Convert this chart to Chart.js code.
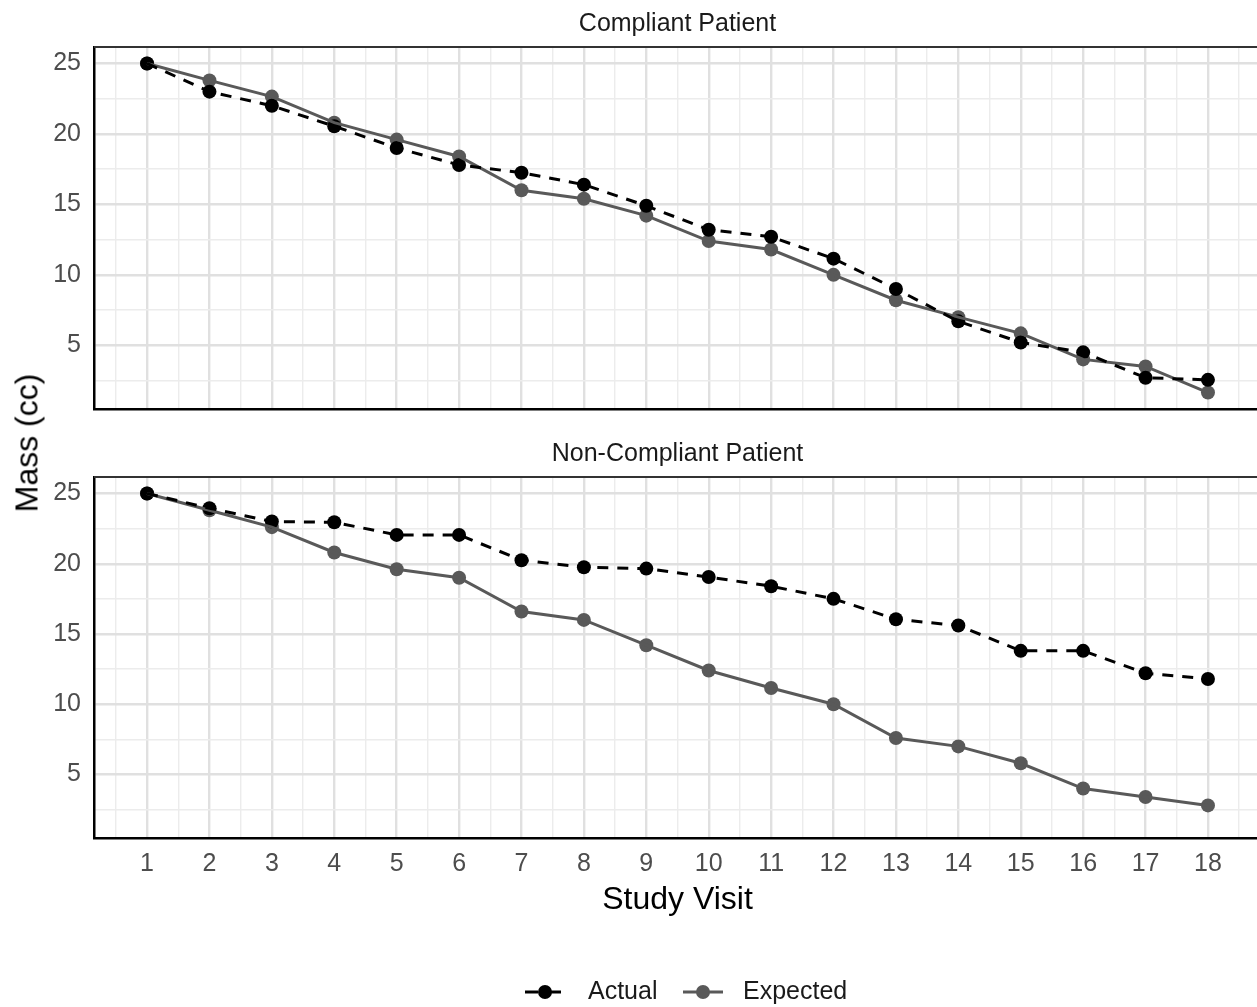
<!DOCTYPE html>
<html>
<head>
<meta charset="utf-8">
<script src="https://cdn.jsdelivr.net/npm/chart.js@4"></script>
<style>
  html, body { margin: 0; padding: 0; background: #fff; width: 1257px; height: 1007px; overflow: hidden; }
  .panel { position: absolute; left: 0; width: 1270px; }
  #p1 { top: 0; height: 430px; }
  #p2 { top: 430px; height: 577px; }
  #ylab { position: absolute; left: 27px; top: 443px; transform: translate(-50%, -50%) rotate(-90deg);
          font-family: 'Liberation Sans', Arial, sans-serif; font-size: 32px; color: #000; white-space: nowrap; }
</style>
</head>
<body>
<div id="p1" class="panel"><canvas id="c1"></canvas></div>
<div id="p2" class="panel"><canvas id="c2"></canvas></div>
<div id="ylab">Mass (cc)</div>
<script>
// ---- data ----
const visits = [1, 2, 3, 4, 5, 6, 7, 8, 9, 10, 11, 12, 13, 14, 15, 16, 17, 18];
const seriesNames = ['Actual', 'Expected'];
const panelTitles = ['Compliant Patient', 'Non-Compliant Patient'];
const compliantActual   = [25, 23.0, 22.0, 20.55, 19.0, 17.8, 17.25, 16.4, 14.9, 13.2, 12.7, 11.15, 9.0, 6.7, 5.2, 4.5, 2.7, 2.55];
const compliantExpected = [25, 23.8, 22.65, 20.8, 19.6, 18.4, 16.0, 15.4, 14.2, 12.4, 11.8, 10.0, 8.2, 7.0, 5.85, 4.0, 3.5, 1.65];
const nonCompliantActual   = [25, 23.95, 23.0, 22.95, 22.05, 22.05, 20.25, 19.75, 19.65, 19.05, 18.4, 17.5, 16.05, 15.6, 13.8, 13.8, 12.2, 11.8];
const nonCompliantExpected = [25, 23.8, 22.6, 20.8, 19.6, 19.0, 16.6, 16.0, 14.2, 12.4, 11.15, 10.0, 7.6, 7.0, 5.8, 4.0, 3.4, 2.8];
const xMajorTicks = [1, 2, 3, 4, 5, 6, 7, 8, 9, 10, 11, 12, 13, 14, 15, 16, 17, 18];
const xMinorTicks = [0.5, 1.5, 2.5, 3.5, 4.5, 5.5, 6.5, 7.5, 8.5, 9.5, 10.5, 11.5, 12.5, 13.5, 14.5, 15.5, 16.5, 17.5, 18.5];
const yMajorTicks = [5, 10, 15, 20, 25];
const yMinorTicks = [2.5, 7.5, 12.5, 17.5, 22.5];
const xLabel = 'Study Visit';

// ---- style ----
const FONT = "'Liberation Sans', Arial, sans-serif";
const ACTUAL_COLOR = '#000000';
const EXPECTED_COLOR = '#595959';
const X_MIN = 0.15, X_MAX = 18.85;
const Y_MIN = 0.48, Y_MAX = 26.17;
const PT_R = 7;

function isIn(arr, v) { return arr.some(a => Math.abs(a - v) < 1e-9); }

const panelBorder = {
  id: 'panelBorder',
  afterDraw(chart) {
    const {ctx, chartArea: a} = chart;
    ctx.save();
    ctx.strokeStyle = '#333333';
    ctx.lineWidth = 1.8;
    ctx.beginPath();
    ctx.moveTo(a.left, a.top); ctx.lineTo(a.right, a.top); ctx.lineTo(a.right, a.bottom);
    ctx.stroke();
    ctx.restore();
  }
};

const ggLegend = {
  id: 'ggLegend',
  afterDraw(chart) {
    const ctx = chart.ctx;
    const y = 562;
    const keys = [
      {x0: 525, color: ACTUAL_COLOR, dash: [13, 10], tx: 588, label: seriesNames[0]},
      {x0: 683, color: EXPECTED_COLOR, dash: [], tx: 743, label: seriesNames[1]}
    ];
    ctx.save();
    keys.forEach(k => {
      ctx.strokeStyle = k.color;
      ctx.lineWidth = 3;
      ctx.setLineDash(k.dash);
      ctx.beginPath(); ctx.moveTo(k.x0, y); ctx.lineTo(k.x0 + 40, y); ctx.stroke();
      ctx.setLineDash([]);
      ctx.fillStyle = k.color;
      ctx.beginPath(); ctx.arc(k.x0 + 20, y, PT_R, 0, Math.PI * 2); ctx.fill();
      ctx.fillStyle = '#1a1a1a';
      ctx.font = '25px ' + FONT;
      ctx.textAlign = 'left';
      ctx.textBaseline = 'middle';
      ctx.fillText(k.label, k.tx, y);
    });
    ctx.restore();
  }
};

function pts(values) { return visits.map((v, i) => ({x: v, y: values[i]})); }

function makeChart(id, title, actual, expected, isBottom) {
  const datasets = [
    {label: seriesNames[0], data: pts(actual), borderColor: ACTUAL_COLOR, borderWidth: 3, borderDash: [11, 9],
     pointRadius: 0, fill: false, tension: 0},
    {label: seriesNames[1], data: pts(expected), borderColor: EXPECTED_COLOR, borderWidth: 3,
     pointRadius: 0, fill: false, tension: 0},
    {label: seriesNames[0] + ' pts', data: pts(actual), showLine: false, pointRadius: PT_R, pointBorderWidth: 0,
     pointBackgroundColor: ACTUAL_COLOR, borderColor: ACTUAL_COLOR},
    {label: seriesNames[1] + ' pts', data: pts(expected), showLine: false, pointRadius: PT_R, pointBorderWidth: 0,
     pointBackgroundColor: EXPECTED_COLOR, borderColor: EXPECTED_COLOR}
  ];
  return new Chart(document.getElementById(id), {
    type: 'line',
    data: {datasets},
    options: {
      responsive: true,
      maintainAspectRatio: false,
      animation: false,
      events: [],
      layout: {padding: {left: 0, right: 9, top: 0, bottom: isBottom ? 88 : 21}},
      plugins: {
        legend: {display: false},
        tooltip: {enabled: false},
        title: {display: true, fullSize: false, text: title, color: '#1a1a1a',
                font: {family: FONT, size: 25, weight: 'normal', lineHeight: 1.2},
                padding: {top: 9, bottom: 8}}
      },
      scales: {
        x: {
          type: 'linear', min: X_MIN, max: X_MAX,
          afterBuildTicks: ax => { ax.ticks = xMinorTicks.concat(xMajorTicks).sort((a, b) => a - b).map(v => ({value: v})); },
          afterFit: ax => { ax.height = isBottom ? 81 : 0; ax.paddingLeft = 0; ax.paddingRight = 0; },
          ticks: {display: isBottom, autoSkip: false, maxRotation: 0, padding: 11, color: '#4d4d4d',
                  font: {family: FONT, size: 25, lineHeight: 1.2},
                  callback: v => isIn(xMajorTicks, v) ? String(v) : ''},
          grid: {drawTicks: false,
                 color: c => isIn(xMajorTicks, c.tick.value) ? '#e0e0e0' : '#ececec',
                 lineWidth: c => isIn(xMajorTicks, c.tick.value) ? 2.4 : 1.4},
          border: {display: true, color: '#000', width: 2.5},
          title: {display: isBottom, text: xLabel, color: '#000',
                  font: {family: FONT, size: 32, lineHeight: 1.2}, padding: {top: 1, bottom: 0}}
        },
        y: {
          type: 'linear', min: Y_MIN, max: Y_MAX,
          afterBuildTicks: ax => { ax.ticks = yMinorTicks.concat(yMajorTicks).sort((a, b) => a - b).map(v => ({value: v})); },
          afterFit: ax => { ax.width = 94; ax.paddingTop = 0; ax.paddingBottom = 0; },
          ticks: {autoSkip: false, padding: 13, color: '#4d4d4d',
                  font: {family: FONT, size: 25, lineHeight: 1.2},
                  callback: v => isIn(yMajorTicks, v) ? String(v) : ''},
          grid: {drawTicks: false,
                 color: c => isIn(yMajorTicks, c.tick.value) ? '#e0e0e0' : '#ececec',
                 lineWidth: c => isIn(yMajorTicks, c.tick.value) ? 2.4 : 1.4},
          border: {display: true, color: '#000', width: 2.5}
        }
      }
    },
    plugins: isBottom ? [panelBorder, ggLegend] : [panelBorder]
  });
}

makeChart('c1', panelTitles[0], compliantActual, compliantExpected, false);
makeChart('c2', panelTitles[1], nonCompliantActual, nonCompliantExpected, true);
</script>
</body>
</html>
